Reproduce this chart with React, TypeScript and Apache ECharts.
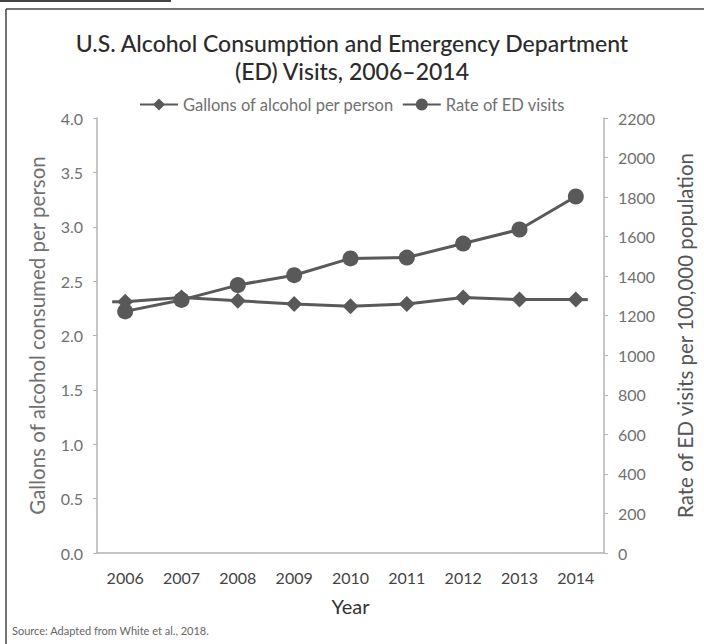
import React, { useEffect, useRef } from "react";
import * as echarts from "echarts";

const years = ["2006", "2007", "2008", "2009", "2010", "2011", "2012", "2013", "2014"];
const gallons = [2.31, 2.35, 2.32, 2.29, 2.27, 2.29, 2.35, 2.33, 2.33];
const edRate = [1222, 1280, 1355, 1405, 1490, 1494, 1565, 1636, 1803];

const titleText = "U.S. Alcohol Consumption and Emergency Department\n(ED) Visits, 2006\u20132014";
const sourceText = "Source: Adapted from White et al., 2018.";

const FONT = "Lato, 'Noto Sans', sans-serif";
const LINE = "#595959";
const TEXT = "#707070";
const AXIS = "#b3b3b3";

export default function App() {
  const ref = useRef<HTMLDivElement>(null);
  useEffect(() => {
    document.body.style.margin = "0";
    const chart = echarts.init(ref.current!, undefined, { renderer: "svg" });
    chart.setOption({
      animation: false,
      backgroundColor: "#fff",
      textStyle: { fontFamily: FONT },
      title: {
        text: titleText,
        left: "center",
        top: 24,
        textStyle: { fontFamily: FONT, fontSize: 23, fontWeight: 500, color: "#2b2b2b", lineHeight: 28 },
      },
      legend: {
        top: 91,
        left: 134,
        itemWidth: 38,
        itemHeight: 15,
        itemGap: 8,
        textStyle: { fontFamily: FONT, fontSize: 16.5, color: TEXT },
        data: ["Gallons of alcohol per person", "Rate of ED visits"],
      },
      grid: { left: 97, right: 100, top: 118, bottom: 91, containLabel: false },
      xAxis: {
        type: "category",
        data: years,
        boundaryGap: true,
        name: "Year",
        nameLocation: "middle",
        nameGap: 43,
        nameTextStyle: { fontFamily: FONT, fontSize: 20, color: "#333" },
        axisLine: { lineStyle: { color: AXIS, width: 1.5 } },
        axisTick: { alignWithLabel: true, length: 5, lineStyle: { color: AXIS } },
        axisLabel: { fontFamily: FONT, fontSize: 16, color: "#444", margin: 16 },
      },
      yAxis: [
        {
          type: "value",
          min: 0,
          max: 4,
          interval: 0.5,
          name: "Gallons of alcohol consumed per person",
          nameLocation: "middle",
          nameGap: 50,
          nameTextStyle: { fontFamily: FONT, fontSize: 20.5, color: TEXT },
          axisLine: { show: true, lineStyle: { color: AXIS, width: 1.5 } },
          axisTick: { show: true, length: 4, lineStyle: { color: AXIS } },
          axisLabel: { fontFamily: FONT, fontSize: 16, color: TEXT, margin: 14, formatter: (v: number) => v.toFixed(1) },
          splitLine: { show: false },
        },
        {
          type: "value",
          min: 0,
          max: 2200,
          interval: 200,
          position: "right",
          name: "Rate of ED visits per 100,000 population",
          nameLocation: "middle",
          nameGap: 70,
          nameTextStyle: { fontFamily: FONT, fontSize: 20.5, color: "#555" },
          axisLine: { show: true, lineStyle: { color: AXIS, width: 1.5 } },
          axisTick: { show: true, length: 4, lineStyle: { color: AXIS } },
          axisLabel: { fontFamily: FONT, fontSize: 16, color: TEXT, margin: 14, formatter: (v: number) => String(v) },
          splitLine: { show: false },
        },
      ],
      series: [
        {
          name: "Gallons of alcohol per person",
          type: "line",
          yAxisIndex: 0,
          data: gallons,
          symbol: "diamond",
          symbolSize: [16, 16],
          lineStyle: { color: LINE, width: 3 },
          itemStyle: { color: LINE },
          z: 3,
        },
        {
          name: "Rate of ED visits",
          type: "line",
          yAxisIndex: 1,
          data: edRate,
          symbol: "circle",
          symbolSize: 16,
          lineStyle: { color: LINE, width: 3 },
          itemStyle: { color: LINE },
          z: 2,
        },
      ],
    });
    const first = chart.convertToPixel({ seriesIndex: 0 }, [0, gallons[0]]) as number[];
    const last = chart.convertToPixel({ seriesIndex: 0 }, [gallons.length - 1, gallons[gallons.length - 1]]) as number[];
    chart.setOption({
      graphic: [
        { type: "line", shape: { x1: 6, y1: 9, x2: 704, y2: 9 }, style: { stroke: "#444", lineWidth: 1.5 } },
        { type: "line", shape: { x1: 6, y1: 9, x2: 6, y2: 644 }, style: { stroke: "#444", lineWidth: 1.5 } },
        { type: "line", shape: { x1: 0, y1: 1, x2: 171, y2: 1 }, style: { stroke: "#444", lineWidth: 2 } },
        { type: "line", z: 1, shape: { x1: first[0] - 13, y1: first[1], x2: first[0], y2: first[1] }, style: { stroke: LINE, lineWidth: 3 } },
        { type: "line", z: 1, shape: { x1: last[0], y1: last[1], x2: last[0] + 12, y2: last[1] }, style: { stroke: LINE, lineWidth: 3 } },
        {
          type: "text",
          left: 12,
          top: 625,
          style: { text: sourceText, fontFamily: FONT, fontSize: 11, fill: "#666" },
        },
      ],
    });
    return () => chart.dispose();
  }, []);
  return <div ref={ref} style={{ width: 704, height: 644 }} />;
}
